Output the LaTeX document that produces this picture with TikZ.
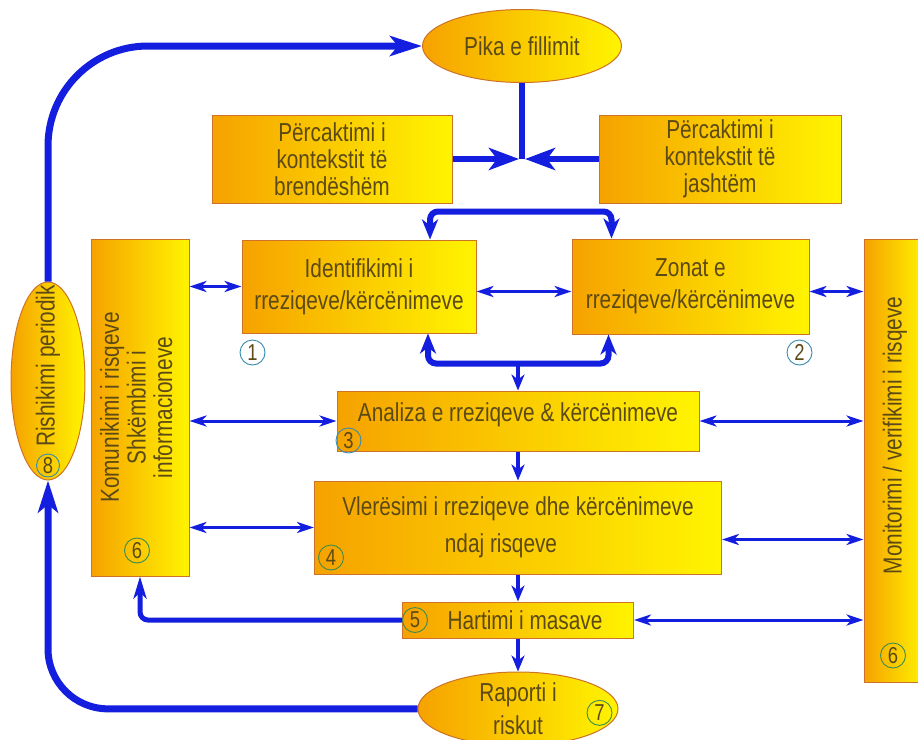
\documentclass[tikz,border=0pt]{standalone}
\usepackage{graphicx}
\usepackage{fontspec}
\setmainfont{Liberation Sans}[FakeStretch=0.8]
\usetikzlibrary{positioning, shapes.geometric, arrows.meta}

\definecolor{riskblue}{RGB}{20,30,222}
\definecolor{riskedge}{RGB}{205,115,40}
\definecolor{riskorange}{RGB}{246,162,0}
\definecolor{riskyellow}{RGB}{255,244,0}
\definecolor{risktext}{RGB}{92,74,22}
\definecolor{numteal}{RGB}{55,140,175}
\definecolor{numgreen}{RGB}{60,140,80}

\tikzset{
  stage/.style={rectangle, draw=riskedge, line width=1pt, left color=riskorange, right color=riskyellow,
    text=risktext, align=center, inner sep=0pt, font=\fontsize{26}{27}\selectfont},
  oval/.style={stage, ellipse},
  num/.style={circle, draw=numgreen, line width=0.9pt, inner sep=0pt, minimum size=25pt,
    text=risktext, font=\fontsize{23}{23}\selectfont},
  link/.style={draw=riskblue, line width=3pt, >={Stealth[length=17pt,width=11pt,inset=5pt]}, <->},
  down/.style={draw=riskblue, line width=4pt, >={Stealth[length=16pt,width=13pt,inset=5pt]}, ->},
  trunk/.style={draw=riskblue, line width=6pt},
  merge/.style={draw=riskblue, line width=6pt, >={Stealth[length=30pt,width=22pt,inset=8pt]}, ->, shorten >=3pt},
  fork/.style={draw=riskblue, line width=6pt, rounded corners=8pt, >={Stealth[length=20pt,width=16pt,inset=6pt]}, <->},
  feedback/.style={draw=riskblue, line width=5pt, rounded corners=8pt, >={Stealth[length=22pt,width=13pt,inset=6pt]}, ->},
  cycleline/.style={draw=riskblue, line width=7pt, rounded corners=60pt, >={Stealth[length=32pt,width=20pt,inset=8pt]}, ->}
}

\begin{document}
\begin{tikzpicture}[x=1pt, y=-1pt]
\useasboundingbox (0,0) rectangle (918,739);

% Nodes
\node (pika) [oval, minimum width=199pt, minimum height=73pt] at (522,46) {Pika e fillimit};
\node (brend) [stage, minimum width=240pt, minimum height=88pt] at (332,159) {Përcaktimi i\\kontekstit të\\brendëshëm};
\node (jasht) [stage, minimum width=242pt, minimum height=88pt, right=146pt of brend] {Përcaktimi i\\kontekstit të\\jashtëm};
\node (ident) [stage, minimum width=234pt, minimum height=93pt, font=\fontsize{26}{32}\selectfont] at (359,286.5) {Identifikimi i\\rreziqeve/kërcënimeve};
\node (zonat) [stage, minimum width=237pt, minimum height=95pt, font=\fontsize{26}{32}\selectfont, right=95pt of ident] {Zonat e\\rreziqeve/kërcënimeve};
\node (analiza) [stage, minimum width=362pt, minimum height=60pt, text height=0pt, text depth=0pt] at (518,421) {Analiza e rreziqeve \& kërcënimeve};
\node (vler) [stage, minimum width=407pt, minimum height=93pt, font=\fontsize{26}{37}\selectfont, below=29pt of analiza] {Vlerësimi i rreziqeve dhe kërcënimeve\\ndaj risqeve\hspace*{34pt}};
\node (hart) [stage, minimum width=231pt, minimum height=36pt, below=27pt of vler] {\hspace*{14pt}Hartimi i masave};
\node (raport) [oval, minimum width=200pt, minimum height=72pt, font=\fontsize{26}{33}\selectfont, below=33pt of hart] {Raporti i\\riskut};
\node (komun) [stage, minimum width=98pt, minimum height=337pt, font=\fontsize{26}{26}\selectfont] at (140,407.5)
  {\rotatebox{90}{\begin{tabular}{@{}c@{}}Komunikimi i risqeve\\Shkëmbimi i\\informacioneve\end{tabular}}};
\node (moni) [stage, minimum width=62pt, minimum height=443pt] at (895,460.5)
  {\rotatebox{90}{\makebox[0pt]{\hspace*{50pt}Monitorimi / verifikimi i risqeve}}};
\node (rish) [oval, minimum width=74pt, minimum height=198pt] at (48,381)
  {\rotatebox{90}{\makebox[0pt]{\hspace*{30pt}Rishikimi periodik}}};

% Numbers
\node (n1) [num, draw=numteal] at ([shift={(11,19)}]ident.south west) {1};
\node (n2) [num, draw=numteal] at ([shift={(-10,18)}]zonat.south east) {2};
\node (n3) [num, draw=numteal] at ([shift={(12,-11)}]analiza.south west) {3};
\node (n4) [num] at ([shift={(17,-17)}]vler.south west) {4};
\node (n5) [num] at ([shift={(13,0)}]hart.west) {5};
\node (n6a) [num] at ([shift={(-3,-26)}]komun.south) {6};
\node (n6b) [num] at ([shift={(-2,-27)}]moni.south) {6};
\node (n7) [num] at ([shift={(-19,4)}]raport.east) {7};
\node (n8) [num, draw=numteal, minimum size=23pt] at ([shift={(0,-15)}]rish.south) {8};

% Start and context
\coordinate (meet) at (pika.south |- brend.east);
\draw[trunk] (pika) -- (meet);
\draw[merge] (brend) -- (meet);
\draw[merge] (jasht) -- (meet);

% Forks
\draw[fork] ([xshift=71pt]ident.north) -- ++(0,-28) -| ([xshift=-79pt]zonat.north);
\draw[fork] ([xshift=69pt]ident.south) -- ++(0,30) -| ([xshift=-82pt]zonat.south);
\draw[down] ([yshift=28pt]analiza.north) -- (analiza.north);

% Main chain
\draw[down] (analiza) -- (vler);
\draw[down] (vler) -- (hart);
\draw[down] (hart) -- (raport);

% Links
\draw[link] (komun.east |- ident.west) -- (ident.west);
\draw[link] ([yshift=-5pt]ident.east) -- ([yshift=-5pt]zonat.west);
\draw[link] ([yshift=-5pt]zonat.east) -- ([yshift=-5pt]zonat.east -| moni.west);
\draw[link] (komun.east |- analiza.west) -- (analiza.west);
\draw[link] (analiza.east) -- (analiza.east -| moni.west);
\draw[link] (komun.east |- vler.west) -- (vler.west);
\draw[link] ([yshift=-12pt]vler.east) -- ([yshift=-12pt]vler.east -| moni.west);
\draw[link] (hart.east) -- (hart.east -| moni.west);

% Feedback
\draw[feedback] (hart.west) -| (komun.south);
\draw[cycleline] (raport.west) -| (rish.south);
\draw[cycleline, rounded corners=100pt] (rish.north) |- (pika.west);

\end{tikzpicture}
\end{document}
